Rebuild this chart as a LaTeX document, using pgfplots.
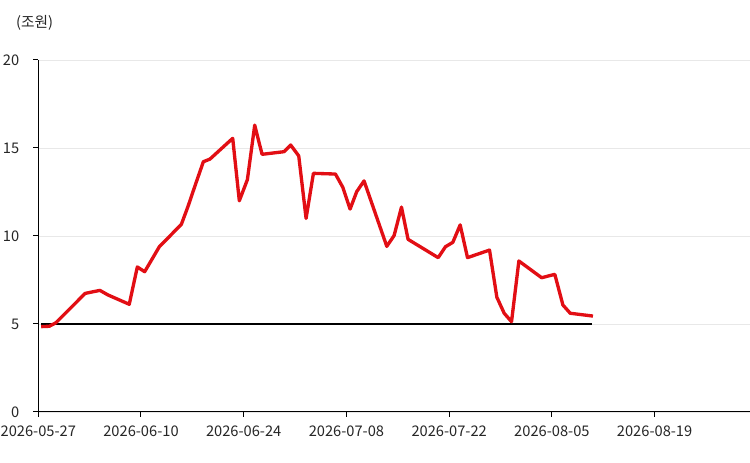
\documentclass[border=0pt]{standalone}
\usepackage{pgfplots}
\pgfplotsset{compat=1.18}
\usepackage{fontspec}
\setmainfont{Noto Sans CJK KR}
\definecolor{lred}{RGB}{226,14,20}
\definecolor{gridc}{RGB}{232,232,232}
\begin{document}
\begin{tikzpicture}[x=1pt,y=1pt]
\path[use as bounding box] (-28.7,-38.25) rectangle (533.8,309);
\begin{axis}[
  at={(0,0)}, anchor=south west,
  scale only axis,
  width=533.8pt, height=264pt,
  xmin=0, xmax=97, ymin=0, ymax=20,
  axis x line*=bottom, axis y line*=left,
  axis line style={black, line width=0.75pt, -},
  xtick={0,14,28,42,56,70,84},
  xticklabels={2026-05-27,2026-06-10,2026-06-24,2026-07-08,2026-07-22,2026-08-05,2026-08-19},
  ytick={0,5,10,15,20},
  tick align=outside,
  major tick length=3.75pt,
  tick style={black, line width=0.75pt},
  ymajorgrids,
  grid style={draw=gridc, line width=0.6pt},
  tick label style={font=\fontsize{11}{13}\selectfont, text=black!85},
  xticklabel style={yshift=-3pt},
  yticklabel style={xshift=-7pt},
  /pgf/number format/assume math mode=true,
  clip=false,
]
\addplot[black, line width=1.5pt] coordinates {(0.4,5) (75.5,5)};
\addplot[lred, line width=2.5pt, line join=round] coordinates {
(0.4,4.85) (1.5,4.87) (2.4,5.07) (6.4,6.74) (8.4,6.91) (9.5,6.65)
(12.4,6.12) (13.5,8.24) (14.5,7.97) (16.5,9.39) (19.5,10.66) (20.4,11.67)
(21.4,12.9) (22.5,14.22) (23.4,14.37) (26.5,15.55) (27.4,12.0) (28.5,13.2)
(29.5,16.3) (30.5,14.64) (33.5,14.79) (34.4,15.17) (35.5,14.55) (36.5,11.0)
(37.5,13.56) (40.5,13.52) (41.5,12.77) (42.5,11.53) (43.4,12.52) (44.4,13.13)
(47.5,9.41) (48.5,10.03) (49.5,11.64) (50.4,9.81) (54.5,8.77) (55.5,9.39)
(56.5,9.64) (57.5,10.63) (58.5,8.77) (61.5,9.2) (62.5,6.52) (63.5,5.61)
(64.5,5.13) (65.5,8.58) (68.6,7.63) (70.4,7.82) (71.5,6.08) (72.5,5.61)
(75.6,5.45)
};
\end{axis}
\node[font=\fontsize{11}{13}\selectfont, text=black!85] at (-2.8,291.8) {(조원)};
\end{tikzpicture}
\end{document}
